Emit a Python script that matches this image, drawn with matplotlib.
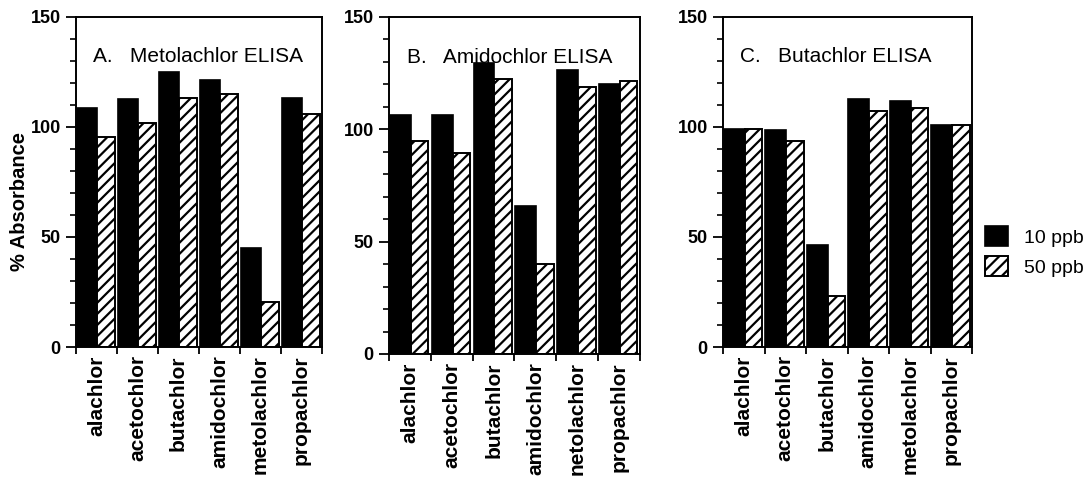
import numpy as np
import matplotlib.pyplot as plt
from matplotlib.ticker import MultipleLocator

plt.rcParams['font.family'] = ['Liberation Sans', 'DejaVu Sans']
plt.rcParams['font.weight'] = 'bold'
plt.rcParams['hatch.linewidth'] = 1.6

compounds_a = ['alachlor', 'acetochlor', 'butachlor', 'amidochlor', 'metolachlor', 'propachlor']
compounds_b = ['alachlor', 'acetochlor', 'butachlor', 'amidochlor', 'netolachlor', 'propachlor']
compounds_c = ['alachlor', 'acetochlor', 'butachlor', 'amidochlor', 'metolachlor', 'propachlor']

ppb10_a = [108.5, 112.7, 125.1, 121.2, 44.8, 113.3]
ppb50_a = [95.6, 102.0, 113.3, 115.0, 20.3, 105.7]

ppb10_b = [106.3, 106.3, 129.7, 65.8, 126.4, 120.3]
ppb50_b = [94.6, 89.5, 122.5, 40.2, 118.9, 121.3]

ppb10_c = [99.3, 98.5, 46.5, 112.6, 111.6, 100.7]
ppb50_c = [99.0, 93.7, 23.0, 107.4, 108.6, 101.0]

titles = ['A.   Metolachlor ELISA', 'B.   Amidochlor ELISA', 'C.   Butachlor ELISA']

# axes positions in figure fractions (left, bottom, width, height)
boxes = [
    [76/1086, 132/479, 246/1086, 330/479],
    [389/1086, 125/479, 251/1086, 337/479],
    [723/1086, 132/479, 249/1086, 330/479],
]

fig = plt.figure(figsize=(10.86, 4.79), dpi=100)

panels = [
    (compounds_a, ppb10_a, ppb50_a),
    (compounds_b, ppb10_b, ppb50_b),
    (compounds_c, ppb10_c, ppb50_c),
]

for k, (names, v10, v50) in enumerate(panels):
    ax = fig.add_axes(boxes[k])
    x = np.arange(len(names))
    b1 = ax.bar(x + 0.02, v10, width=0.50, align='edge', color='black',
                edgecolor='black', linewidth=1.2)
    b2 = ax.bar(x + 0.52, v50, width=0.42, align='edge', color='white',
                edgecolor='black', hatch='///', linewidth=1.4)
    ax.set_xlim(0, 6)
    ax.set_ylim(0, 150)
    ax.set_xticks(np.arange(7))
    ax.set_xticklabels([])
    ax.set_xticks(x + 0.5, minor=True)
    ax.set_xticklabels(names, minor=True, rotation=90, fontsize=15)
    ax.tick_params(axis='x', which='minor', length=0, pad=6)
    ax.tick_params(axis='x', which='major', direction='out', length=5, width=1.3)
    ax.set_yticks([0, 50, 100, 150])
    ax.yaxis.set_minor_locator(MultipleLocator(10))
    ax.tick_params(axis='y', which='major', direction='out', length=7, width=1.3, labelsize=13, pad=4)
    ax.tick_params(axis='y', which='minor', direction='out', length=4, width=1.2)
    for s in ax.spines.values():
        s.set_linewidth(1.4)
    ax.text(0.07, 0.88, titles[k], transform=ax.transAxes, fontsize=15, fontweight='normal',
            ha='left', va='center')

fig.text(0.018, 0.58, '% Absorbance', rotation=90, ha='center', va='center', fontsize=14.5)

fig.legend([b1, b2], ['10 ppb', '50 ppb'], loc='upper left',
           bbox_to_anchor=(985/1086, 1 - 226/479), frameon=False,
           prop={'size': 14, 'weight': 'normal'}, borderaxespad=0, borderpad=0,
           handlelength=1.2, handleheight=1.2, handletextpad=0.8, labelspacing=0.5)

fig.savefig('out.png', dpi=100)
